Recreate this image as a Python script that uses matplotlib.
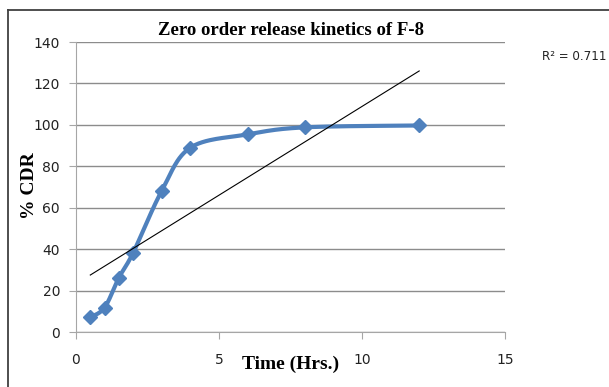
import numpy as np
import matplotlib.pyplot as plt
from matplotlib.lines import Line2D

# dissolution data for formulation F-8
time_hrs = [0.5, 1, 1.5, 2, 3, 4, 6, 8, 12]
cdr_pct = [7.1, 11.8, 26.2, 38.3, 68.2, 89.0, 95.4, 98.8, 99.7]
x_ticks = [0, 5, 10, 15]
y_ticks = [0, 20, 40, 60, 80, 100, 120, 140]
r2_label = "R² = 0.711"


def smooth_curve(xs, ys, n=30):
    # bezier segments with catmull-rom style control points
    p = np.column_stack([xs, ys]).astype(float)
    p = np.vstack([p[0], p, p[-1]])
    out = []
    t = np.linspace(0, 1, n)[:, None]
    for i in range(1, len(p) - 2):
        p0, p1, p2, p3 = p[i - 1], p[i], p[i + 1], p[i + 2]
        c1 = p1 + (p2 - p0) / 6
        c2 = p2 - (p3 - p1) / 6
        seg = ((1 - t) ** 3) * p1 + 3 * ((1 - t) ** 2) * t * c1 \
            + 3 * (1 - t) * t ** 2 * c2 + t ** 3 * p2
        out.append(seg)
    out = np.vstack(out)
    return out[:, 0], out[:, 1]


fig = plt.figure(figsize=(6.09, 3.87), dpi=100)
ax = fig.add_axes([76 / 609, 1 - 332 / 387, (505 - 76) / 609, (332 - 42) / 387])

blue = "#4F81BD"
sx, sy = smooth_curve(time_hrs, cdr_pct)
ax.plot(sx, sy, color=blue, lw=3, solid_capstyle="round", zorder=3)
ax.plot(time_hrs, cdr_pct, ls="none", marker="D", ms=7.5, color=blue, zorder=4)

# linear trendline
k, b = np.polyfit(time_hrs, cdr_pct, 1)
tx = np.array([time_hrs[0], time_hrs[-1]])
ax.plot(tx, k * tx + b, color="black", lw=0.8, zorder=5)

ax.set_xlim(0, 15)
ax.set_ylim(0, 140)
ax.set_xticks(x_ticks)
ax.set_yticks(y_ticks)
ax.grid(axis="y", color="#8c8c8c", lw=1)
ax.set_axisbelow(True)
for s in ["top", "right"]:
    ax.spines[s].set_visible(False)
for s in ["left", "bottom"]:
    ax.spines[s].set_color("#a6a6a6")
ax.tick_params(axis="both", colors="#a6a6a6", labelcolor="#222222", labelsize=10, length=5)
ax.tick_params(axis="x", pad=10)
ax.tick_params(axis="y", pad=6.5)

ax.set_title("Zero order release kinetics of F-8", family="Liberation Serif",
             weight="bold", fontsize=13.5, pad=5)
fig.text(30 / 609, 1 - 186 / 387, "% CDR", family="Liberation Serif", weight="bold",
         fontsize=14, rotation=90, ha="center", va="center")
fig.text(291 / 609, 1 - 364 / 387, "Time (Hrs.)", family="Liberation Serif",
         weight="bold", fontsize=14, ha="center", va="center")

fig.text(542 / 609, 1 - 56 / 387, r2_label, fontsize=8.6, color="#222222", va="center")

# outer frame (left and top edges)
fig.add_artist(Line2D([8 / 609, 8 / 609], [0, 1 - 10 / 387], color="#404040", lw=1.3,
                      transform=fig.transFigure))
fig.add_artist(Line2D([8 / 609, 1], [1 - 10 / 387, 1 - 10 / 387], color="#404040", lw=1.3,
                      transform=fig.transFigure))

fig.savefig("out.png", dpi=100)
